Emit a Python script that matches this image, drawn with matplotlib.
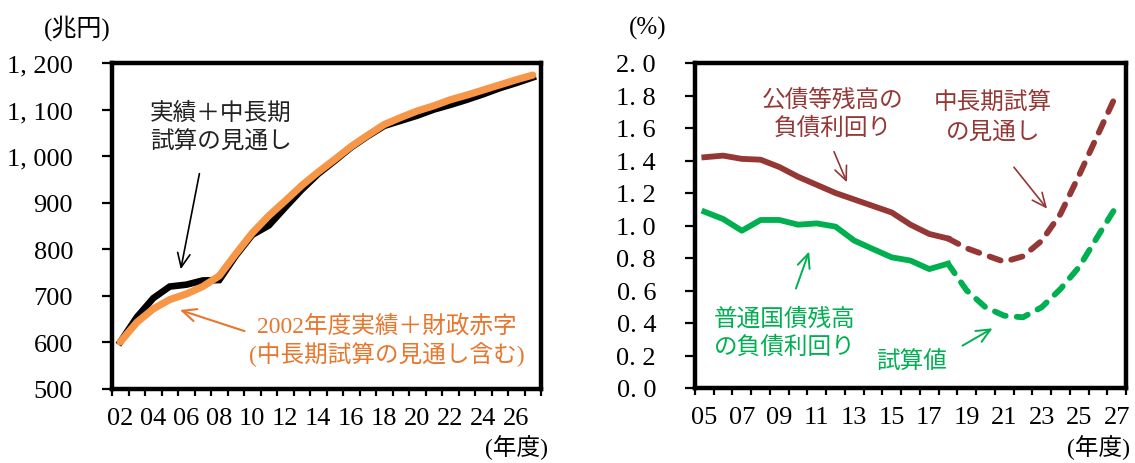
import matplotlib
matplotlib.use("Agg")
import matplotlib.pyplot as plt
import numpy as np

JP = ["Noto Sans CJK JP", "DejaVu Sans"]
SERIF_JP = ["Liberation Serif", "Noto Sans CJK JP"]

# left panel: 公債等残高 (兆円), fiscal years 2002-2027
years_l = ["02", "03", "04", "05", "06", "07", "08", "09", "10", "11", "12", "13", "14",
           "15", "16", "17", "18", "19", "20", "21", "22", "23", "24", "25", "26", "27"]
actual_plus_proj = [601, 654, 695, 720, 724, 733, 734, 786, 831, 851, 890, 928, 962,
                    990, 1019, 1043, 1065, 1076, 1087, 1100, 1110, 1121, 1133, 1146, 1157, 1169]
base2002_plus_deficit = [601, 643, 672, 692, 704, 720, 743, 790, 835, 872, 904, 937, 966,
                         993, 1021, 1045, 1068, 1083, 1097, 1108, 1121, 1131, 1142, 1153, 1164, 1174]
yticks_l = [500, 600, 700, 800, 900, 1000, 1100, 1200]
yticklabels_l = ["500", "600", "700", "800", "900", "1, 000", "1, 100", "1, 200"]

# right panel: 負債利回り (%), fiscal years 2005-2027, 18 onward = 試算
years_r = ["05", "06", "07", "08", "09", "10", "11", "12", "13", "14", "15", "16",
           "17", "18", "19", "20", "21", "22", "23", "24", "25", "26", "27"]
n_actual = 14  # 05..18 solid
kousai_yield = [1.42, 1.43, 1.41, 1.405, 1.36, 1.30, 1.25, 1.20, 1.16, 1.12, 1.08, 1.005,
                0.948, 0.92, 0.86, 0.818, 0.777, 0.81, 0.906, 1.07, 1.31, 1.56, 1.81]
kokusai_yield = [1.085, 1.04, 0.968, 1.034, 1.034, 1.005, 1.013, 0.993, 0.907, 0.855, 0.804,
                 0.784, 0.732, 0.765, 0.60, 0.497, 0.445, 0.435, 0.497, 0.609, 0.745, 0.935, 1.12]
yticks_r = [0.0, 0.2, 0.4, 0.6, 0.8, 1.0, 1.2, 1.4, 1.6, 1.8, 2.0]
yticklabels_r = ["0. 0", "0. 2", "0. 4", "0. 6", "0. 8", "1. 0", "1. 2", "1. 4", "1. 6", "1. 8", "2. 0"]

BLACK = "#000000"
ORANGE = "#F79646"
ORANGE_TXT = "#E8772E"
RED = "#953735"
GREEN = "#00B050"
ARROW = "->,head_length=1.0,head_width=0.45"

fig = plt.figure(figsize=(11.35, 4.64), dpi=100)
axl = fig.add_axes([112 / 1135, 1 - 390 / 464, 429 / 1135, 326 / 464])
axr = fig.add_axes([695 / 1135, 1 - 389 / 464, 431 / 1135, 325 / 464])


def style_axes(ax, n, labels, yticks, ylabels):
    for s in ax.spines.values():
        s.set_linewidth(3.2)
    ax.set_xlim(-0.5, n - 0.5)
    ax.set_xticks(np.arange(0, n, 2))
    ax.set_xticklabels(labels[::2], family="Liberation Serif", fontsize=19)
    ax.set_xticks(np.arange(-0.5, n, 1), minor=True)
    ax.tick_params(axis="x", which="major", length=0, pad=13)
    ax.tick_params(axis="x", which="minor", length=5, width=1.6, direction="out")
    ax.set_yticks(yticks)
    ax.set_yticklabels(ylabels, family="Liberation Serif", fontsize=19)
    ax.tick_params(axis="y", length=7, width=1.6, direction="out", pad=21)


xl = np.arange(len(years_l))
axl.plot(xl, actual_plus_proj, color=BLACK, lw=4.8, solid_joinstyle="miter", zorder=3)
axl.plot(xl, base2002_plus_deficit, color=ORANGE, lw=5.2, solid_capstyle="round", zorder=4)
axl.set_ylim(500, 1200)
style_axes(axl, len(years_l), years_l, yticks_l, yticklabels_l)

axl.text(0.088, 0.804, "実績＋中長期\n試算の見通し", transform=axl.transAxes,
         ha="left", va="center", fontsize=17, family=JP, color="#222222", linespacing=1.3)
axl.annotate("", xy=(0.159, 0.359), xytext=(0.205, 0.669), xycoords="axes fraction",
             textcoords="axes fraction", arrowprops=dict(arrowstyle=ARROW, color=BLACK, lw=1.2))
axl.text(0.641, 0.150, "2002年度実績＋財政赤字\n(中長期試算の見通し含む)", transform=axl.transAxes,
         ha="center", va="center", fontsize=17, family=SERIF_JP, color=ORANGE_TXT, linespacing=1.25)
axl.annotate("", xy=(0.152, 0.245), xytext=(0.315, 0.175), xycoords="axes fraction",
             textcoords="axes fraction", arrowprops=dict(arrowstyle=ARROW, color=ORANGE_TXT, lw=1.5))

xr = np.arange(len(years_r))
dash = (0, (2.0, 1.9))
axr.plot(xr[:n_actual], kousai_yield[:n_actual], color=RED, lw=4.2, zorder=3)
axr.plot(xr[n_actual - 1:], kousai_yield[n_actual - 1:], color=RED, lw=4.2,
         linestyle=dash, dash_capstyle="round", zorder=3)
axr.plot(xr[:n_actual], kokusai_yield[:n_actual], color=GREEN, lw=4.2, zorder=3)
axr.plot(xr[n_actual - 1:], kokusai_yield[n_actual - 1:], color=GREEN, lw=4.2,
         linestyle=dash, dash_capstyle="round", zorder=3)
axr.set_ylim(0, 2.0)
style_axes(axr, len(years_r), years_r, yticks_r, yticklabels_r)

axr.text(0.320, 0.846, "公債等残高の\n負債利回り", transform=axr.transAxes,
         ha="center", va="center", fontsize=17, family=JP, color=RED, linespacing=1.3)
axr.annotate("", xy=(0.355, 0.625), xytext=(0.320, 0.735), xycoords="axes fraction",
             textcoords="axes fraction", arrowprops=dict(arrowstyle=ARROW, color=RED, lw=1.2))
axr.text(0.691, 0.834, "中長期試算\nの見通し", transform=axr.transAxes,
         ha="center", va="center", fontsize=17, family=JP, color=RED, linespacing=1.3)
axr.annotate("", xy=(0.821, 0.545), xytext=(0.736, 0.686), xycoords="axes fraction",
             textcoords="axes fraction", arrowprops=dict(arrowstyle=ARROW, color=RED, lw=1.2))
axr.text(0.209, 0.172, "普通国債残高\nの負債利回り", transform=axr.transAxes,
         ha="center", va="center", fontsize=17, family=JP, color=GREEN, linespacing=1.3)
axr.annotate("", xy=(0.267, 0.428), xytext=(0.232, 0.298), xycoords="axes fraction",
             textcoords="axes fraction", arrowprops=dict(arrowstyle=ARROW, color=GREEN, lw=1.4))
axr.text(0.503, 0.083, "試算値", transform=axr.transAxes,
         ha="center", va="center", fontsize=17, family=JP, color=GREEN)
axr.annotate("", xy=(0.696, 0.188), xytext=(0.615, 0.126), xycoords="axes fraction",
             textcoords="axes fraction", arrowprops=dict(arrowstyle=ARROW, color=GREEN, lw=1.4))

fig.text(77 / 1135, 1 - 28 / 464, "(兆円)", ha="center", va="center", fontsize=18, family=SERIF_JP)
fig.text(648 / 1135, 1 - 28 / 464, "(%)", ha="center", va="center", fontsize=18, family=SERIF_JP)
fig.text(548 / 1135, 1 - 448 / 464, "(年度)", ha="right", va="center", fontsize=17, family=SERIF_JP)
fig.text(1130 / 1135, 1 - 448 / 464, "(年度)", ha="right", va="center", fontsize=17, family=SERIF_JP)

fig.savefig("out.png", dpi=100)
